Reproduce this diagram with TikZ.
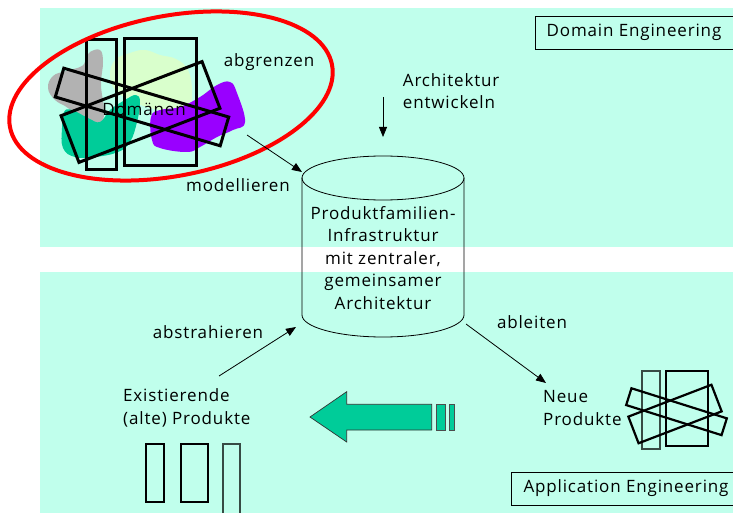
\documentclass[tikz,border=0pt]{standalone}
\usepackage{fontspec}
\setmainfont{Open Sans}[LetterSpace=5]
\usetikzlibrary{arrows.meta}

\definecolor{panel}{RGB}{192,255,236}
\definecolor{mint}{RGB}{0,204,153}
\definecolor{violet}{RGB}{153,0,255}
\definecolor{blobgray}{RGB}{178,178,178}
\definecolor{blobyellow}{RGB}{217,255,204}
\definecolor{framegray}{RGB}{55,75,68}

\begin{document}
\begin{tikzpicture}[x=1pt, y=-1pt,
  lbl/.style={font=\fontsize{17}{22.5}\selectfont, inner sep=0pt, text=black},
  flow/.style={-{Triangle[length=10pt,width=8pt]}, line width=0.8pt},
  heavyframe/.style={draw=black, line width=3pt, inner sep=0pt},
  prodframe/.style={draw=black, line width=2.2pt, inner sep=0pt},
  tagbox/.style={draw=black, line width=0.9pt},
  blob/.style={smooth cycle, tension=0.7}
]
\useasboundingbox (0,0) rectangle (733,513);
\clip (0,0) rectangle (733,513);

% two engineering panels
\fill[white] (0,0) rectangle (733,513);
\fill[panel] (40,8) rectangle (733,247);
\fill[panel] (40,272) rectangle (733,513);

% panel captions
\draw[tagbox] (535,16) rectangle (745,49);
\node[lbl] (de) at (634,32) {Domain Engineering};
\draw[tagbox] (511,472) rectangle (745,505);
\node[lbl] (ae) at (626,488) {Application Engineering};

% domain blobs
\fill[blobgray] plot[blob] coordinates {(90,52) (100,50) (103,62) (101,85) (104,110) (101,128) (92,130) (80,120) (68,108) (55,100) (48,88) (53,76) (66,71) (82,66) (86,58)};
\fill[blobyellow] plot[blob] coordinates {(115,60) (130,53) (145,50) (160,55) (176,59) (188,70) (192,90) (189,105) (170,110) (150,108) (130,100) (115,90) (110,75)};
\fill[mint] plot[blob] coordinates {(62,128) (64,112) (72,110) (88,118) (100,122) (110,110) (125,100) (136,95) (140,102) (137,122) (130,142) (118,152) (95,157) (75,157) (63,148)};
\fill[violet] plot[blob] coordinates {(151,117) (160,110) (180,107) (200,97) (217,85) (230,82) (237,93) (245,122) (233,130) (217,137) (200,147) (187,152) (160,148) (152,140)};

% domain frames
\draw[heavyframe] (86,40) rectangle (116,170);
\draw[heavyframe] (124,39) rectangle (196,166);
\node[heavyframe, minimum width=172pt, minimum height=30pt, rotate=-16.5] (dma) at (142,107) {};
\node[heavyframe, minimum width=151pt, minimum height=50pt, rotate=21] (dmb) at (140.5,112) {};
\node[lbl] (dom) at (144,109) {Domänen};

% scoping ellipse
\draw[red, line width=4pt, rotate around={11:(171,96)}] (171,96) ellipse [x radius=164pt, y radius=80pt];

% infrastructure cylinder
\draw[line width=0.8pt] (383,178) ellipse [x radius=81pt, y radius=22pt];
\draw[line width=0.8pt] (302,178) -- (302,315) arc[start angle=180, end angle=360, x radius=81pt, y radius=22pt] -- (464,178);
\node[lbl, align=center] (infra) at (383,258) {Produktfamilien-\\Infrastruktur\\mit zentraler,\\gemeinsamer\\Architektur};

% labels
\node[lbl] (abg) at (269,62) {abgrenzen};
\node[lbl] (mod) at (238,185) {modellieren};
\node[lbl, align=left, anchor=west] (arch) at (402.7,91) {Architektur\\entwickeln};
\node[lbl] (abs) at (208,332) {abstrahieren};
\node[lbl] (abl) at (532,322) {ableiten};
\node[lbl, align=left, anchor=west] (neu) at (543,408) {Neue\\Produkte};
\node[lbl, align=left, anchor=west] (alt) at (123,408) {Existierende\\(alte) Produkte};

% connector ends
\coordinate (modS) at (247,135);
\coordinate (modE) at (302,172);
\coordinate (archS) at (383,97);
\coordinate (archE) at (383,137);
\coordinate (absS) at (219,376);
\coordinate (absE) at (296,327);
\coordinate (ablS) at (466,324);
\coordinate (ablE) at (546,383);
\draw[flow] (modS) -- (modE);
\draw[flow] (archS) -- (archE);
\draw[flow] (absS) -- (absE);
\draw[flow] (ablS) -- (ablE);

% reuse arrow
\filldraw[fill=mint, draw=black!80, line width=0.7pt]
  (431.7,404.3) -- (346.7,404.3) -- (346.7,391.7) -- (310,417) -- (346.7,442) -- (346.7,430) -- (431.7,430) -- cycle;
\filldraw[fill=mint, draw=black!70, line width=0.7pt] (436,404.3) rectangle (445,430);
\filldraw[fill=mint, draw=black!70, line width=0.7pt] (449.3,404.3) rectangle (454,430);

% existing products
\draw[prodframe, line width=2pt] (146,444) rectangle (164,502);
\draw[prodframe, line width=2pt] (181,444) rectangle (208,502);
\draw[prodframe, draw=framegray, line width=2pt] (223,444) rectangle (240,520);

% new products
\draw[prodframe, draw=framegray] (642,371) rectangle (660,449);
\draw[prodframe] (666,371) rectangle (708,446);
\node[prodframe, minimum width=100pt, minimum height=17.6pt, rotate=-17.5] (npa) at (676.5,411.7) {};
\node[prodframe, minimum width=89pt, minimum height=28.5pt, rotate=21] (npb) at (675,414) {};
\end{tikzpicture}
\end{document}
